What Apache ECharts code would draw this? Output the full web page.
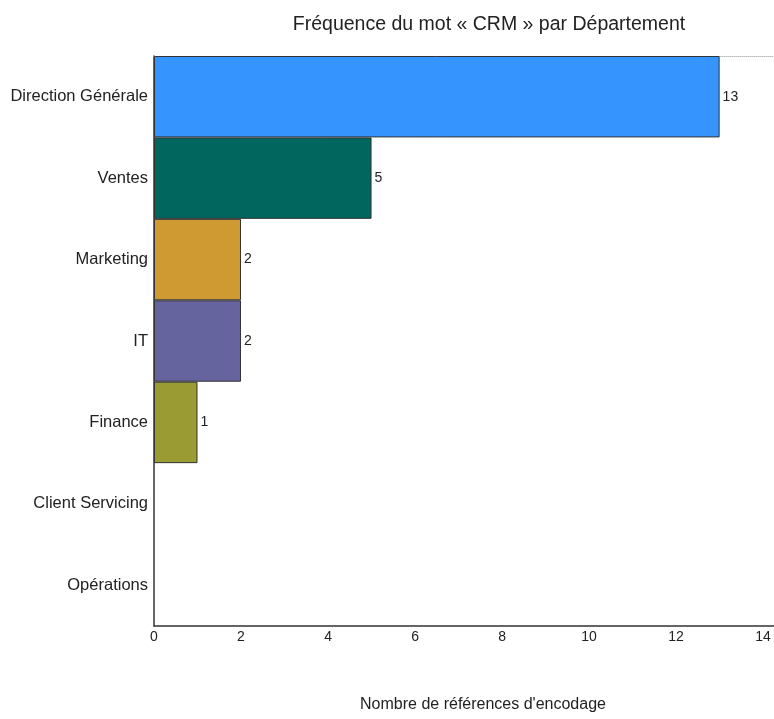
<!DOCTYPE html>
<html>
<head>
<meta charset="utf-8">
<script src="https://cdn.jsdelivr.net/npm/echarts@6/dist/echarts.min.js"></script>
<style>
  html, body { margin: 0; padding: 0; background: #fff; }
  #chart { width: 774px; height: 719px; }
</style>
</head>
<body>
<div id="chart"></div>
<script>
// Departments, top to bottom
const departments = ['Direction Générale', 'Ventes', 'Marketing', 'IT', 'Finance', 'Client Servicing', 'Opérations'];
// Number of coding references per department
const counts = [13, 5, 2, 2, 1, null, null];
const barColors = ['#3594FE', '#01665E', '#D09A33', '#65649F', '#9A9B32', '#999999', '#999999'];
// Value-axis ticks; the axis runs slightly past the last tick to the frame edge
const xTicks = [0, 2, 4, 6, 8, 10, 12, 14];
const xAxisEnd = 14.25;

const font = 'Liberation Sans, Arial, sans-serif';
const chart = echarts.init(document.getElementById('chart'));

chart.setOption({
  animation: false,
  backgroundColor: '#ffffff',
  title: {
    text: 'Fréquence du mot « CRM » par Département',
    left: 484,
    top: 10,
    textAlign: 'center',
    textStyle: { fontFamily: font, fontSize: 19.5, fontWeight: 'normal', color: '#222' }
  },
  grid: { left: 154, right: 0, top: 56, bottom: 93, containLabel: false },
  xAxis: [{
    type: 'value',
    min: xTicks[0],
    max: xAxisEnd,
    interval: xTicks[1] - xTicks[0],
    name: "Nombre de références d'encodage",
    nameLocation: 'middle',
    nameGap: 71,
    nameTextStyle: { fontFamily: font, fontSize: 16, color: '#222', padding: [0, 0, 0, 38] },
    axisLine: { show: true, lineStyle: { color: '#333', width: 1.5 } },
    axisTick: { show: false },
    axisLabel: {
      fontFamily: font, fontSize: 14, color: '#222', margin: 4,
      showMaxLabel: false,
      formatter: v => (xTicks.includes(v) ? String(v) : '')
    },
    splitLine: { show: false }
  }, {
    type: 'value',
    position: 'top',
    min: xTicks[0],
    max: xAxisEnd,
    axisLine: { show: true, lineStyle: { color: '#bbb', width: 1, type: [1, 1] } },
    axisTick: { show: false },
    axisLabel: { show: false },
    splitLine: { show: false }
  }],
  yAxis: {
    type: 'category',
    inverse: true,
    data: departments,
    axisLine: { show: true, lineStyle: { color: '#333', width: 1.5 } },
    axisTick: { show: false },
    axisLabel: { fontFamily: font, fontSize: 16.5, color: '#222', margin: 6 },
    splitLine: { show: false }
  },
  series: [{
    type: 'bar',
    xAxisIndex: 0,
    data: counts.map((v, i) => ({ value: v, itemStyle: { color: barColors[i] } })),
    barWidth: '100%',
    barCategoryGap: '0%',
    itemStyle: { borderColor: '#333', borderWidth: 1 },
    label: {
      show: true,
      position: 'right',
      distance: 3,
      fontFamily: font,
      fontSize: 14,
      color: '#222',
      formatter: p => (p.value == null ? '' : p.value)
    }
  }]
});
</script>
</body>
</html>
